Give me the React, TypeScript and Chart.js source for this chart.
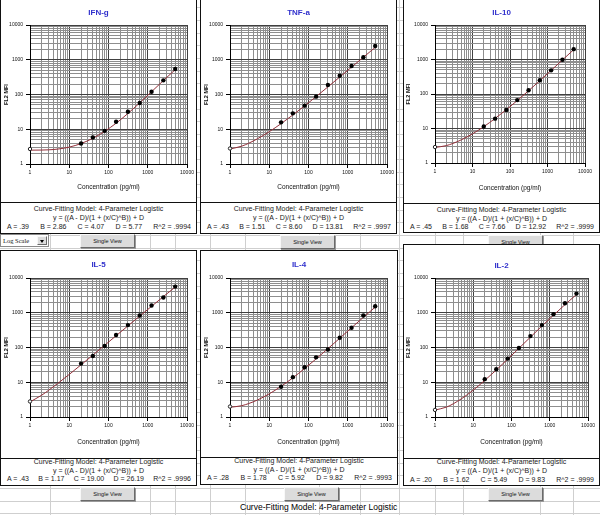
import React, { useEffect, useRef } from 'react';
import { Chart, registerables } from 'chart.js';

Chart.register(...registerables);

// ---------------- data ----------------
const panelTitles = ['IFN-g', 'TNF-a', 'IL-10', 'IL-5', 'IL-4', 'IL-2'];
const standardConc = [20, 40, 80, 156, 312.5, 625, 1250, 2500, 5000];
const blankConc = 1;
const curveConc = [1, 2, 3, 5, 10, 20, 40, 80, 156, 312.5, 625, 1250, 2500, 5000];
const axisTickLabels = [1, 10, 100, 1000, 10000];
const minorMultipliers = [1, 2, 3, 4, 5, 6, 7, 8, 9];

const ifngMFI = [3.9, 5.8, 9.0, 16.5, 32, 57, 120, 255, 540];
const ifngBlank = 2.7;
const ifngCurve = [2.5, 2.52, 2.56, 2.68, 3.06, 3.88, 5.5, 8.7, 14.9, 28.5, 57.5, 120, 252, 518];

const tnfaMFI = [15.8, 28.7, 47.7, 86.7, 188, 348, 661, 1175, 2489];
const tnfaBlank = 2.8;
const tnfaCurve = [2.69, 3.27, 3.96, 5.32, 8.5, 14.5, 25.8, 47.3, 86.7, 166, 318, 614, 1180, 2265];

const il10MFI = [11.4, 19.3, 34.3, 66.5, 129, 250, 485, 984, 1995];
const il10Blank = 2.9;
const il10Curve = [2.82, 3.19, 3.69, 4.68, 7.0, 11.3, 19.5, 35.2, 64.4, 124, 244, 484, 968, 1932];

const il5MFI = [34.4, 57, 110, 228, 441, 834, 1614, 2735, 5650];
const il5Blank = 2.8;
const il5Curve = [2.72, 4.27, 5.9, 9.1, 16.8, 31.8, 60.5, 116, 218, 419, 804, 1528, 2911, 5483];

const il4MFI = [7.4, 14, 27, 52, 88, 191, 370, 834, 1544];
const il4Blank = 2.0;
const il4Curve = [1.9, 2.12, 2.44, 3.08, 4.64, 7.64, 13.4, 25, 46.9, 92.7, 185, 371, 738, 1452];

const il2MFI = [12.3, 23.7, 48, 97, 213, 441, 911, 1880, 3560];
const il2Blank = 1.6;
const il2Curve = [1.585, 1.93, 2.4, 3.39, 5.94, 11.3, 22.5, 46.4, 94.6, 199, 415, 849, 1710, 3357];

const paramA = ['.39', '.43', '.45', '.43', '.28', '.20'];
const paramB = ['2.86', '1.51', '1.68', '1.17', '1.78', '1.62'];
const paramC = ['4.07', '8.60', '7.66', '19.00', '5.92', '5.49'];
const paramD = ['5.77', '13.81', '12.92', '26.19', '9.82', '9.83'];
const paramR2 = ['.9994', '.9997', '.9999', '.9996', '.9993', '.9999'];

const modelTitle = 'Curve-Fitting Model: 4-Parameter Logistic';
const modelEquation = 'y = ((A - D)/(1 + (x/C)^B)) + D';
const xAxisTitle = 'Concentration (pg/ml)';
const yAxisTitle = 'FL2 MFI';
const buttonLabel = 'Single View';
const scaleLabel = 'Log Scale';

const panelStandards = [ifngMFI, tnfaMFI, il10MFI, il5MFI, il4MFI, il2MFI];
const panelBlanks = [ifngBlank, tnfaBlank, il10Blank, il5Blank, il4Blank, il2Blank];
const panelCurves = [ifngCurve, tnfaCurve, il10Curve, il5Curve, il4Curve, il2Curve];

// ---------------- layout / style ----------------
const SANS = '"Liberation Sans", Arial, Helvetica, sans-serif';
const SERIF = '"Liberation Serif", "Times New Roman", serif';
const TITLE_BLUE = '#3030cc';
const CURVE_RED = '#93303a';
const X_AXIS_H = 34;

interface Rect { l: number; t: number; r: number; b: number }
interface PanelLayout {
  frame: Rect; boxBottom: number; plot: Rect; titleY: number; xTitleY: number; yTitleX: number;
  textY: number[]; button: { l: number; t: number };
}

const layouts: PanelLayout[] = [
  { frame: { l: 0, t: -1, r: 196, b: 202 }, boxBottom: 233, plot: { l: 30, t: 25, r: 187, b: 164 }, titleY: 13, xTitleY: 187, yTitleX: 6, textY: [209, 218, 227], button: { l: 80, t: 234 } },
  { frame: { l: 200, t: -1, r: 396, b: 202 }, boxBottom: 233, plot: { l: 230, t: 25, r: 387, b: 164 }, titleY: 13, xTitleY: 187, yTitleX: 206, textY: [209, 218, 227], button: { l: 280, t: 235 } },
  { frame: { l: 403, t: -1, r: 599, b: 203 }, boxBottom: 232, plot: { l: 435, t: 25, r: 585, b: 163 }, titleY: 13, xTitleY: 188, yTitleX: 408, textY: [210, 219, 227], button: { l: 488, t: 235 } },
  { frame: { l: 0, t: 250, r: 196, b: 458 }, boxBottom: 485, plot: { l: 30, t: 278, r: 187, b: 417 }, titleY: 265, xTitleY: 442, yTitleX: 6, textY: [462, 470.5, 479], button: { l: 80, t: 487 } },
  { frame: { l: 200, t: 250, r: 397, b: 457 }, boxBottom: 484, plot: { l: 230, t: 278, r: 387, b: 417 }, titleY: 265, xTitleY: 442, yTitleX: 206, textY: [461, 469.5, 478], button: { l: 284, t: 487 } },
  { frame: { l: 403, t: 244, r: 599, b: 458 }, boxBottom: 485, plot: { l: 435, t: 278, r: 588, b: 417 }, titleY: 266, xTitleY: 442, yTitleX: 408, textY: [462, 471, 480], button: { l: 488, t: 487 } },
];

const sheetColumns = [50, 150, 175, 210, 245, 319, 360, 399, 435, 463, 540, 573];

function buildLogTicks(): number[] {
  const out: number[] = [];
  for (const d of axisTickLabels.slice(0, -1)) for (const m of minorMultipliers) out.push(d * m);
  out.push(axisTickLabels[axisTickLabels.length - 1]);
  return out;
}

function PanelChart({ idx }: { idx: number }) {
  const ref = useRef<HTMLCanvasElement>(null);
  const L = layouts[idx];
  const width = L.frame.r - L.frame.l + 1;
  const height = L.plot.b - L.frame.t + X_AXIS_H;

  useEffect(() => {
    const canvas = ref.current;
    if (!canvas) return;
    const cl = L.frame.l;
    const ct = L.frame.t;
    const tickValues = buildLogTicks();
    const isDecade = (v: any) => axisTickLabels.includes(v);
    const titleSize = 8;
    const titlePadTop = L.titleY - ct - titleSize / 2;
    const titlePadBottom = L.plot.t - ct - titlePadTop - titleSize;
    const xTitleSize = 6.5;
    const xTitlePadBottom = L.plot.b + X_AXIS_H - xTitleSize / 2 - L.xTitleY;
    const yTitleSize = 5.5;
    const yTitlePadTop = L.yTitleX - cl - yTitleSize / 2;

    const gridColor = (ctx: any) => (isDecade(ctx.tick && ctx.tick.value) ? '#404040' : '#8e8e8e');
    const tickColor = (ctx: any) => (isDecade(ctx.tick && ctx.tick.value) ? '#000' : 'rgba(0,0,0,0)');

    const common = {
      type: 'logarithmic' as const,
      min: 1,
      max: 10000,
      afterBuildTicks: (scale: any) => { scale.ticks = tickValues.map((v) => ({ value: v })); },
      grid: { color: gridColor, lineWidth: 1, tickLength: 4, tickColor, drawTicks: true },
      border: { color: '#000', width: 1 },
    };

    const chart = new Chart(canvas, {
      type: 'scatter',
      data: {
        datasets: [
          {
            type: 'line',
            data: curveConc.map((x, i) => ({ x, y: panelCurves[idx][i] })),
            borderColor: CURVE_RED,
            borderWidth: 1,
            pointRadius: 0,
            cubicInterpolationMode: 'monotone',
            fill: false,
            clip: false as any,
            order: 3,
          } as any,
          {
            type: 'scatter',
            data: standardConc.map((x, i) => ({ x, y: panelStandards[idx][i] })),
            pointRadius: 2.2,
            pointBackgroundColor: '#000',
            pointBorderColor: '#000',
            pointBorderWidth: 0,
            clip: false as any,
            order: 1,
          } as any,
          {
            type: 'scatter',
            data: [{ x: blankConc, y: panelBlanks[idx] }],
            pointRadius: 1.7,
            pointBackgroundColor: '#fff',
            pointBorderColor: '#222',
            pointBorderWidth: 1,
            clip: false as any,
            order: 2,
          } as any,
        ],
      },
      options: {
        responsive: false,
        animation: false,
        devicePixelRatio: 1,
        events: [],
        layout: { padding: 0 },
        plugins: {
          legend: { display: false },
          tooltip: { enabled: false },
          title: {
            display: true,
            text: panelTitles[idx],
            color: TITLE_BLUE,
            font: { family: SANS, size: titleSize, weight: 'bold', lineHeight: 1 },
            padding: { top: titlePadTop, bottom: titlePadBottom },
          },
        },
        scales: {
          x: {
            ...common,
            position: 'bottom',
            afterFit: (s: any) => { s.height = X_AXIS_H; },
            ticks: {
              autoSkip: false, maxRotation: 0, minRotation: 0, padding: 2, color: '#111',
              font: { family: SANS, size: 5 },
              callback: (v: any) => (isDecade(v) ? String(v) : ''),
            },
            title: {
              display: true, text: xAxisTitle, color: '#111',
              font: { family: SANS, size: xTitleSize, lineHeight: 1 },
              padding: { top: 0, bottom: xTitlePadBottom },
            },
          },
          y: {
            ...common,
            position: 'left',
            afterFit: (s: any) => { s.width = L.plot.l - cl; },
            ticks: {
              autoSkip: false, padding: 3, color: '#111',
              font: { family: SANS, size: 5 },
              callback: (v: any) => (isDecade(v) ? String(v) : ''),
            },
            title: {
              display: true, text: yAxisTitle, color: '#111',
              font: { family: SANS, size: yTitleSize, weight: 'bold', lineHeight: 1 },
              padding: { top: yTitlePadTop, bottom: 0 },
            },
          },
          yRight: {
            type: 'logarithmic',
            position: 'right',
            min: 1,
            max: 10000,
            grid: { display: false, drawOnChartArea: false, drawTicks: false },
            border: { display: false },
            ticks: { display: false },
            afterFit: (s: any) => { s.width = L.frame.r + 1 - L.plot.r; },
          },
        },
      } as any,
    });
    return () => chart.destroy();
  }, [idx]);

  return (
    <canvas
      ref={ref}
      width={width}
      height={height}
      style={{ position: 'absolute', left: L.frame.l, top: L.frame.t, width, height, display: 'block' }}
    />
  );
}

function Panel({ idx }: { idx: number }) {
  const L = layouts[idx];
  const w = L.frame.r - L.frame.l + 1;
  const textLine = (y: number, content: React.ReactNode, key: string) => (
    <div
      key={key}
      style={{
        position: 'absolute', left: L.frame.l, top: y - 4, width: w, height: 8, lineHeight: '8px',
        fontFamily: SANS, fontSize: 7, color: '#1a1a1a', textAlign: 'center', whiteSpace: 'nowrap',
      }}
    >
      {content}
    </div>
  );
  return (
    <>
      <div
        style={{
          position: 'absolute', left: L.frame.l, top: L.frame.t, width: w, height: L.frame.b - L.frame.t + 1,
          border: '1px solid #111', boxSizing: 'border-box', background: '#fff',
        }}
      />
      <div
        style={{
          position: 'absolute', left: L.frame.l, top: L.frame.b, width: w, height: L.boxBottom - L.frame.b + 1,
          border: '1px solid #111', boxSizing: 'border-box', background: '#fff',
        }}
      />
      <PanelChart idx={idx} />
      {textLine(L.textY[0], modelTitle, 't1')}
      {textLine(L.textY[1], modelEquation, 't2')}
      <div
        style={{
          position: 'absolute', left: L.frame.l + 7, top: L.textY[2] - 4, width: w - 13, height: 8, lineHeight: '8px',
          fontFamily: SANS, fontSize: 7, color: '#1a1a1a', whiteSpace: 'pre',
          display: 'flex', justifyContent: 'space-between',
        }}
      >
        <span>{'A = ' + paramA[idx]}</span>
        <span>{'B = ' + paramB[idx]}</span>
        <span>{'C = ' + paramC[idx]}</span>
        <span>{'D = ' + paramD[idx]}</span>
        <span>{'R^2 = ' + paramR2[idx]}</span>
      </div>
      <div
        style={{
          position: 'absolute', left: L.button.l, top: L.button.t, width: 55, height: 14, boxSizing: 'border-box',
          background: '#dcdcdc', borderStyle: 'solid', borderWidth: 1,
          borderColor: '#f8f8f8 #6a6a6a #6a6a6a #f8f8f8', boxShadow: '1px 1px 0 #9a9a9a',
          fontFamily: SANS, fontSize: 5.5, color: '#111', textAlign: 'center', lineHeight: '12px',
        }}
      >
        {buttonLabel}
      </div>
    </>
  );
}

export default function App() {
  const rows: number[] = [];
  for (let y = 7.3; y < 515; y += 12.65) rows.push(Math.round(y));
  return (
    <div style={{ position: 'absolute', left: 0, top: 0, width: 600, height: 515, overflow: 'hidden', background: '#fff' }}>
      {rows.map((y) => (
        <div key={'r' + y} style={{ position: 'absolute', left: 0, top: y, width: 600, height: 1, background: '#cfcfcf' }} />
      ))}
      {sheetColumns.map((x) => (
        <div key={'c' + x} style={{ position: 'absolute', left: x, top: 0, width: 1, height: 515, background: '#cfcfcf' }} />
      ))}
      {layouts.map((_, i) => (
        <Panel key={i} idx={i} />
      ))}
      <div
        style={{
          position: 'absolute', left: 0, top: 234, width: 49, height: 13, boxSizing: 'border-box',
          background: '#fff', border: '1px solid #8a8a8a',
        }}
      >
        <span style={{ position: 'absolute', left: 2, top: 0, fontFamily: SERIF, fontSize: 6.5, lineHeight: '11px', color: '#111' }}>
          {scaleLabel}
        </span>
        <div
          style={{
            position: 'absolute', left: 36, top: 1, width: 10, height: 9, boxSizing: 'border-box',
            background: '#dcdcdc', borderStyle: 'solid', borderWidth: 1, borderColor: '#f8f8f8 #6a6a6a #6a6a6a #f8f8f8',
          }}
        >
          <div
            style={{
              position: 'absolute', left: 2, top: 3, width: 0, height: 0,
              borderLeft: '2.5px solid transparent', borderRight: '2.5px solid transparent', borderTop: '3px solid #000',
            }}
          />
        </div>
      </div>
      <div
        style={{
          position: 'absolute', left: 240, top: 502, height: 11, lineHeight: '11px',
          fontFamily: SANS, fontSize: 8.5, color: '#000', whiteSpace: 'nowrap',
        }}
      >
        {modelTitle}
      </div>
    </div>
  );
}
